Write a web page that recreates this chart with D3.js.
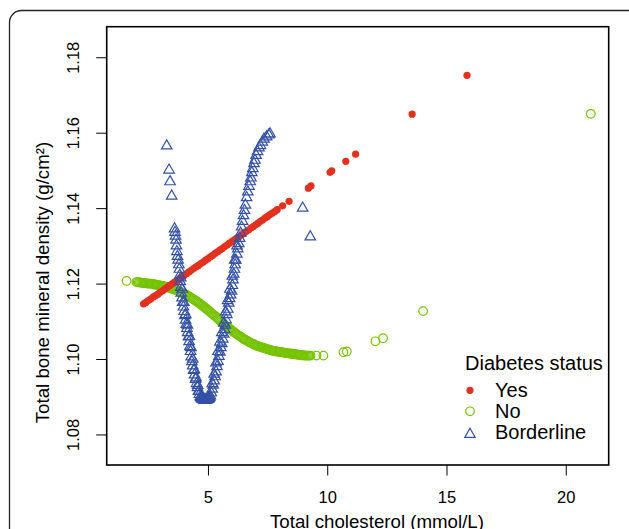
<!DOCTYPE html>
<html>
<head>
<meta charset="utf-8">
<script src="https://cdn.jsdelivr.net/npm/d3@7"></script>
<style>
  body { margin: 0; background: #fff; }
  svg { display: block; font-family: "Liberation Sans", Arial, sans-serif; }
</style>
</head>
<body>
<div id="chart"></div>
<script>
// Diabetes status = Yes  [cholesterol, BMD]
const yesPoints = [
  [2.3,1.1146],[2.4,1.1150],[2.5,1.1155],[2.6,1.1159],[2.7,1.1164],[2.8,1.1168],[2.9,1.1172],
  [3.0,1.1177],[3.1,1.1181],[3.2,1.1186],[3.3,1.1190],[3.4,1.1195],[3.5,1.1199],[3.6,1.1204],
  [3.7,1.1208],[3.8,1.1213],[3.9,1.1217],[4.0,1.1222],[4.1,1.1226],[4.2,1.1231],[4.3,1.1235],
  [4.4,1.1240],[4.5,1.1244],[4.6,1.1248],[4.7,1.1253],[4.8,1.1257],[4.9,1.1262],[5.0,1.1266],
  [5.1,1.1271],[5.2,1.1275],[5.3,1.1280],[5.4,1.1284],[5.5,1.1289],[5.6,1.1293],[5.7,1.1298],
  [5.8,1.1302],[5.9,1.1307],[6.0,1.1311],[6.1,1.1316],[6.2,1.1320],[6.3,1.1324],[6.4,1.1329],
  [6.5,1.1333],[6.6,1.1338],[6.7,1.1342],[6.8,1.1347],[6.9,1.1351],[7.0,1.1356],[7.1,1.1360],
  [7.2,1.1365],[7.3,1.1369],[7.4,1.1374],[7.5,1.1378],[7.6,1.1383],[7.7,1.1387],[7.8,1.1391],
  [7.9,1.1396],[8.13,1.1406],[8.40,1.1418],[9.21,1.1453],[9.32,1.1459],[10.12,1.1495],
  [10.19,1.1499],[10.78,1.1524],[11.19,1.1543],[13.56,1.1649],[15.86,1.1752]
];

// Diabetes status = No
const noPoints = [
  [1.59,1.1207],
  [2.00,1.1204],[2.05,1.1204],[2.10,1.1203],[2.15,1.1203],[2.20,1.1202],[2.25,1.1202],[2.30,1.1202],
  [2.35,1.1201],[2.40,1.1201],[2.45,1.1200],[2.50,1.1200],[2.55,1.1200],[2.60,1.1200],[2.65,1.1199],
  [2.70,1.1199],[2.75,1.1198],[2.80,1.1197],[2.85,1.1197],[2.90,1.1196],[2.95,1.1195],[3.00,1.1195],
  [3.05,1.1194],[3.10,1.1194],[3.15,1.1193],[3.20,1.1192],[3.25,1.1191],[3.30,1.1190],[3.35,1.1189],
  [3.40,1.1188],[3.45,1.1187],[3.50,1.1186],[3.55,1.1185],[3.60,1.1184],[3.65,1.1183],[3.70,1.1182],
  [3.75,1.1180],[3.80,1.1179],[3.85,1.1177],[3.90,1.1176],[3.95,1.1174],[4.00,1.1173],[4.05,1.1171],
  [4.10,1.1170],[4.15,1.1168],[4.20,1.1166],[4.25,1.1164],[4.30,1.1162],[4.35,1.1160],[4.40,1.1158],
  [4.45,1.1156],[4.50,1.1154],[4.55,1.1152],[4.60,1.1150],[4.65,1.1147],[4.70,1.1145],[4.75,1.1142],
  [4.80,1.1140],[4.85,1.1137],[4.90,1.1135],[4.95,1.1132],[5.00,1.1130],[5.05,1.1127],[5.10,1.1124],
  [5.15,1.1121],[5.20,1.1119],[5.25,1.1116],[5.30,1.1114],[5.35,1.1111],[5.40,1.1108],[5.45,1.1105],
  [5.50,1.1102],[5.55,1.1099],[5.60,1.1097],[5.65,1.1094],[5.70,1.1091],[5.75,1.1088],[5.80,1.1086],
  [5.85,1.1083],[5.90,1.1081],[5.95,1.1078],[6.00,1.1076],[6.05,1.1073],[6.10,1.1071],[6.15,1.1068],
  [6.20,1.1066],[6.25,1.1064],[6.30,1.1062],[6.35,1.1060],[6.40,1.1058],[6.45,1.1055],[6.50,1.1053],
  [6.55,1.1051],[6.60,1.1050],[6.65,1.1048],[6.70,1.1046],[6.75,1.1044],[6.80,1.1043],[6.85,1.1041],
  [6.90,1.1040],[6.95,1.1038],[7.00,1.1037],[7.05,1.1035],[7.10,1.1034],[7.15,1.1033],[7.20,1.1032],
  [7.25,1.1031],[7.30,1.1030],[7.35,1.1029],[7.40,1.1028],[7.45,1.1027],[7.50,1.1026],[7.55,1.1025],
  [7.60,1.1024],[7.65,1.1023],[7.70,1.1022],[7.75,1.1021],[7.80,1.1021],[7.85,1.1020],[7.90,1.1020],
  [7.95,1.1019],[8.00,1.1019],[8.05,1.1018],[8.10,1.1018],[8.15,1.1017],[8.20,1.1017],[8.25,1.1016],
  [8.30,1.1016],[8.35,1.1015],[8.40,1.1015],[8.45,1.1014],[8.50,1.1014],[8.55,1.1014],[8.60,1.1013],
  [8.65,1.1013],[8.70,1.1012],[8.75,1.1012],[8.80,1.1011],[8.85,1.1011],[8.90,1.1010],[8.95,1.1010],
  [9.00,1.1010],[9.05,1.1009],[9.10,1.1009],[9.15,1.1009],[9.20,1.1009],[9.25,1.1009],[9.30,1.1009],
  [9.55,1.1009],[9.84,1.1009],[10.68,1.1018],[10.82,1.1020],[12.02,1.1047],[12.34,1.1055],
  [14.02,1.1127],[21.05,1.1650]
];

// Diabetes status = Borderline
const borderlinePoints = [
  [3.27,1.1565],[3.37,1.1501],[3.41,1.1470],[3.48,1.1432],
  [3.60,1.1345],[3.62,1.1336],[3.64,1.1326],[3.66,1.1315],[3.68,1.1300],[3.70,1.1285],[3.72,1.1272],
  [3.75,1.1262],[3.78,1.1250],[3.80,1.1238],[3.82,1.1222],[3.84,1.1205],[3.86,1.1190],[3.88,1.1175],
  [3.91,1.1162],[3.94,1.1150],[3.97,1.1138],[4.00,1.1126],[4.03,1.1115],[4.06,1.1103],[4.09,1.1092],
  [4.12,1.1081],[4.15,1.1070],[4.18,1.1059],[4.21,1.1046],[4.24,1.1033],[4.27,1.1020],[4.30,1.1006],
  [4.33,1.0993],[4.36,1.0982],[4.40,1.0970],[4.44,1.0958],[4.48,1.0946],[4.52,1.0935],[4.56,1.0924],
  [4.60,1.0914],[4.64,1.0906],[4.68,1.0900],
  [3.86,1.1215],[3.92,1.1185],[3.99,1.1150],[4.07,1.1118],[4.14,1.1090],[4.22,1.1060],[4.29,1.1030],
  [4.36,1.1000],[4.43,1.0972],[4.50,1.0950],[4.57,1.0930],[4.63,1.0915],
  [4.70,1.0898],[4.72,1.0896],[4.74,1.0895],[4.76,1.0894],[4.78,1.0893],[4.80,1.0893],[4.82,1.0892],
  [4.84,1.0892],[4.86,1.0892],[4.88,1.0892],[4.90,1.0892],[4.92,1.0892],[4.94,1.0892],[4.96,1.0892],
  [4.98,1.0893],[5.00,1.0893],[5.02,1.0894],[5.04,1.0895],[5.06,1.0897],[5.08,1.0899],
  [5.10,1.0902],[5.14,1.0910],[5.18,1.0920],[5.22,1.0931],[5.26,1.0942],[5.30,1.0953],[5.34,1.0966],
  [5.38,1.0980],[5.42,1.0994],[5.46,1.1007],[5.50,1.1018],[5.54,1.1030],[5.58,1.1041],[5.62,1.1053],
  [5.66,1.1066],[5.70,1.1078],[5.73,1.1090],[5.76,1.1104],[5.79,1.1118],[5.83,1.1132],[5.87,1.1148],
  [5.91,1.1160],[5.95,1.1170],[5.99,1.1180],[6.02,1.1195],[6.05,1.1210],[6.08,1.1225],[6.11,1.1238],
  [6.14,1.1250],[6.17,1.1262],[6.21,1.1278],[6.25,1.1292],[6.29,1.1306],[6.33,1.1320],[6.37,1.1334],
  [6.41,1.1350],[6.45,1.1365],[6.49,1.1380],[6.53,1.1394],[6.57,1.1408],[6.62,1.1428],[6.67,1.1443],
  [6.72,1.1458],[6.77,1.1470],[6.80,1.1480],[6.84,1.1494],[6.88,1.1505],[6.93,1.1518],[6.97,1.1527],
  [7.02,1.1540],[7.08,1.1550],[7.14,1.1560],[7.20,1.1566],[7.28,1.1575],[7.35,1.1583],[7.46,1.1589],
  [7.55,1.1594],[7.60,1.1597],
  [5.18,1.0935],[5.26,1.0960],[5.34,1.0990],[5.42,1.1020],[5.50,1.1045],[5.58,1.1070],[5.66,1.1095],
  [5.74,1.1125],[5.82,1.1155],[5.92,1.1185],[6.02,1.1220],[6.12,1.1262],[6.22,1.1300],
  [8.97,1.1400],[9.29,1.1324]
];

const seriesNames = ["Yes", "No", "Borderline"];
const xTicks = [5, 10, 15, 20];
const yTicks = [1.08, 1.10, 1.12, 1.14, 1.16, 1.18];

const width = 629, height = 529;
const plot = {left: 106.7, top: 26.7, right: 608.7, bottom: 465};
const col = {yes: "#e2311f", no: "#76c300", border: "#3551a6"};
const triPath = "M0,-6.06L5.25,3.03L-5.25,3.03Z";

const svg = d3.select("#chart")
              .append("svg")
              .attr("width", width)
              .attr("height", height);

// outer rounded frame (partly cut off by the page edge)
svg.append("rect")
   .attr("x", 9.5).attr("y", 10.5)
   .attr("width", 640).attr("height", 560)
   .attr("rx", 12)
   .attr("fill", "none")
   .attr("stroke", "#222")
   .attr("stroke-width", 1.3);

let x = d3.scaleLinear()
          .domain([0.755, 21.8])
          .range([plot.left, plot.right]);

let y = d3.scaleLinear()
          .domain([1.0719, 1.1881])
          .range([plot.bottom, plot.top]);

// x axis
let gx = svg.append("g")
            .attr("transform", "translate(0," + plot.bottom + ")")
            .call(d3.axisBottom(x).tickValues(xTicks).tickSize(10.5).tickPadding(15.3))
            .attr("font-size", 16.5)
            .attr("font-family", null);
gx.select(".domain").remove();
gx.selectAll("line").attr("stroke", "#000");
gx.selectAll("text").attr("fill", "#000");

// y axis, labels rotated like base R
let gy = svg.append("g")
            .attr("transform", "translate(" + plot.left + ",0)")
            .call(d3.axisLeft(y).tickValues(yTicks).tickSize(10.5).tickFormat(d3.format(".2f")))
            .attr("font-size", 16.5)
            .attr("font-family", null);
gy.select(".domain").remove();
gy.selectAll("line").attr("stroke", "#000");
gy.selectAll("text")
  .attr("fill", "#000")
  .attr("transform", "rotate(-90)")
  .attr("x", 0)
  .attr("y", -28)
  .attr("dy", 0)
  .attr("text-anchor", "middle");

// points: green first, red over it, blue on top
svg.append("g")
   .selectAll("circle")
   .data(noPoints)
   .enter().append("circle")
   .attr("cx", d => x(d[0]))
   .attr("cy", d => y(d[1]))
   .attr("r", 4.3)
   .attr("fill", "none")
   .attr("stroke", col.no)
   .attr("stroke-width", 1.2);

svg.append("g")
   .selectAll("circle")
   .data(yesPoints)
   .enter().append("circle")
   .attr("cx", d => x(d[0]))
   .attr("cy", d => y(d[1]))
   .attr("r", 3.6)
   .attr("fill", col.yes);

svg.append("g")
   .selectAll("path")
   .data(borderlinePoints)
   .enter().append("path")
   .attr("d", triPath)
   .attr("transform", d => "translate(" + x(d[0]) + "," + y(d[1]) + ")")
   .attr("fill", "none")
   .attr("stroke", col.border)
   .attr("stroke-width", 1.2);

// plot box
svg.append("rect")
   .attr("x", plot.left).attr("y", plot.top)
   .attr("width", plot.right - plot.left)
   .attr("height", plot.bottom - plot.top)
   .attr("fill", "none")
   .attr("stroke", "#000")
   .attr("stroke-width", 1.6);

// axis titles (the x title is cut by the page edge in the original too)
svg.append("text")
   .attr("x", 377).attr("y", 528)
   .attr("text-anchor", "middle")
   .attr("font-size", 18.7)
   .text("Total cholesterol (mmol/L)");

svg.append("text")
   .attr("transform", "translate(48.5,282.5) rotate(-90)")
   .attr("text-anchor", "middle")
   .attr("font-size", 18.7)
   .text("Total bone mineral density (g/cm²)");

// legend
let lg = svg.append("g").attr("transform", "translate(465,370)");
lg.append("text")
  .attr("x", 0).attr("y", 0)
  .attr("font-size", 20)
  .text("Diabetes status");

let items = lg.selectAll("g.item")
              .data(seriesNames)
              .enter().append("g")
              .attr("class", "item")
              .attr("transform", (d, i) => "translate(0," + (27.3 + i * 21) + ")");

items.append("text")
     .attr("x", 30).attr("y", 0)
     .attr("font-size", 20)
     .text(d => d);

items.each(function(d) {
  let g = d3.select(this);
  if (d === "Yes") {
    g.append("circle").attr("cx", 5).attr("cy", -7).attr("r", 3.6).attr("fill", col.yes);
  } else if (d === "No") {
    g.append("circle").attr("cx", 5).attr("cy", -7).attr("r", 4.3)
     .attr("fill", "none").attr("stroke", col.no).attr("stroke-width", 1.2);
  } else {
    g.append("path").attr("d", triPath).attr("transform", "translate(5,-5)")
     .attr("fill", "none").attr("stroke", col.border).attr("stroke-width", 1.2);
  }
});
</script>
</body>
</html>
